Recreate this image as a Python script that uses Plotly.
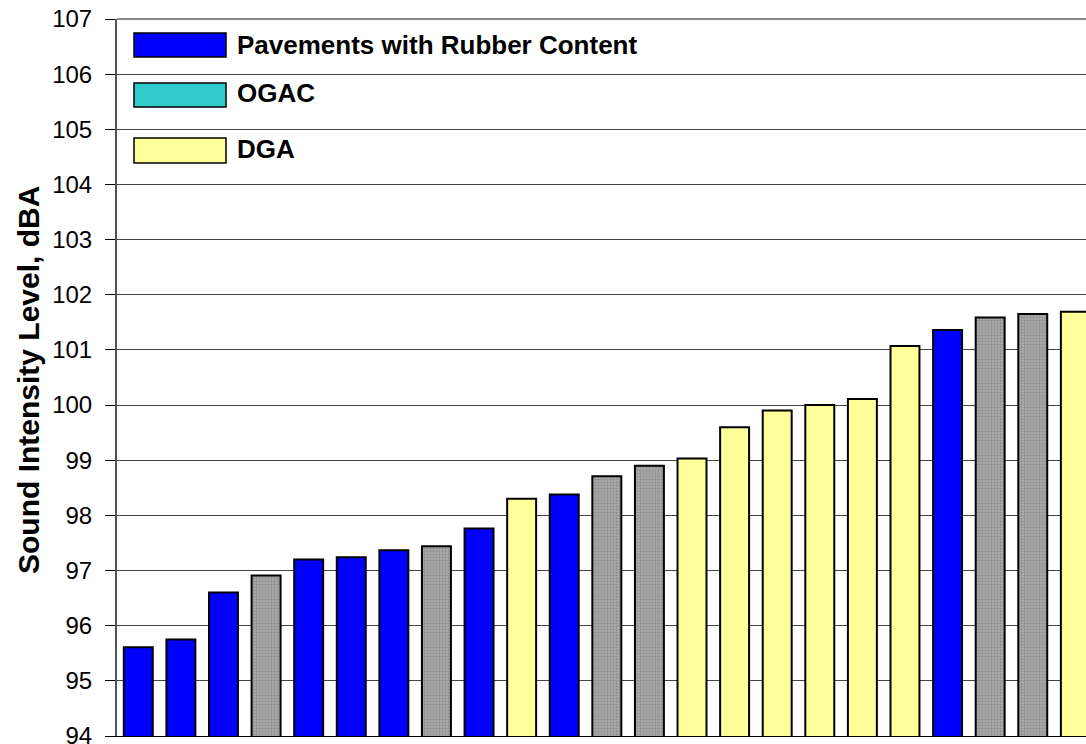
import plotly.graph_objects as go

# Sound intensity per test section, sorted ascending
levels = [95.61, 95.75, 96.60, 96.91, 97.20, 97.24, 97.37, 97.44, 97.76, 98.30,
          98.38, 98.71, 98.90, 99.03, 99.60, 99.90, 100.00, 100.11, 101.07, 101.36,
          101.59, 101.65, 101.69]
# Surface type of each section: R = rubber content, O = OGAC, D = DGA
surface = ["R", "R", "R", "O", "R", "R", "R", "O", "R", "D",
           "R", "O", "O", "D", "D", "D", "D", "D", "D", "R",
           "O", "O", "D"]
legend_names = ["Pavements with Rubber Content", "OGAC", "DGA"]
y_ticks = list(range(94, 108))

W, H = 1086, 744
L, R, T, B = 117, 0, 19, 8

styles = {
    "R": dict(color="#0000ff"),
    "O": dict(color="#a8a8a8", pattern=dict(shape=".", fgcolor="#6e6e6e", size=3, solidity=0.35)),
    "D": dict(color="#ffff99"),
}

fig = go.Figure()
for key in ["R", "O", "D"]:
    xs = [i for i, s in enumerate(surface) if s == key]
    ys = [levels[i] for i in xs]
    fig.add_trace(go.Bar(
        x=xs, y=ys, width=0.68, showlegend=False,
        marker=dict(line=dict(color="#000000", width=2), **styles[key]),
    ))


def px_x(p):
    return (p - L) / (W - L - R)


def px_y(p):
    return (H - B - p) / (H - T - B)


# legend: swatches and labels drawn in paper space
swatch_colors = ["#0000ff", "#33cccc", "#ffff99"]
swatch_rows = [(33, 57), (83, 107), (138, 163)]
label_rows = [45, 93, 149]
shapes = [dict(type="line", xref="paper", yref="paper", x0=0, x1=1, y0=1, y1=1,
               line=dict(color="#8a8a8a", width=2), layer="below")]
annotations = []
for name, col, (y0, y1), ly in zip(legend_names, swatch_colors, swatch_rows, label_rows):
    shapes.append(dict(type="rect", xref="paper", yref="paper",
                       x0=px_x(134), x1=px_x(226), y0=px_y(y1), y1=px_y(y0),
                       fillcolor=col, line=dict(color="#000000", width=1.5), layer="above"))
    annotations.append(dict(xref="paper", yref="paper", x=px_x(235), y=px_y(ly),
                            xanchor="left", yanchor="middle", showarrow=False,
                            text="<b>%s</b>" % name,
                            font=dict(family="Arial, Liberation Sans", size=26, color="#000000")))

annotations.append(dict(xref="paper", yref="paper", x=px_x(28), y=px_y(380),
                        xanchor="center", yanchor="middle", showarrow=False, textangle=-90,
                        text="<b>Sound Intensity Level, dBA</b>",
                        font=dict(family="Arial, Liberation Sans", size=30, color="#000000")))

fig.update_layout(
    width=W, height=H,
    margin=dict(l=L, r=R, t=T, b=B, autoexpand=False),
    paper_bgcolor="#ffffff", plot_bgcolor="#ffffff",
    barmode="overlay",
    shapes=shapes, annotations=annotations,
    xaxis=dict(range=[-0.5, 22.25], showticklabels=False, ticks="", showgrid=False,
               zeroline=False, showline=True, linecolor="#000000", linewidth=1),
    yaxis=dict(range=[94, 107], tickvals=y_ticks, ticktext=[str(v) for v in y_ticks],
               ticks="outside", ticklen=10, tickwidth=1, tickcolor="#000000",
               ticklabelstandoff=8, ticklabeloverflow="allow",
               showgrid=True, gridcolor="#444444", gridwidth=1,
               zeroline=False, showline=True, linecolor="#555555", linewidth=2,
               tickfont=dict(family="Arial, Liberation Sans", size=24, color="#000000")),
)

fig.write_html("out.html")
